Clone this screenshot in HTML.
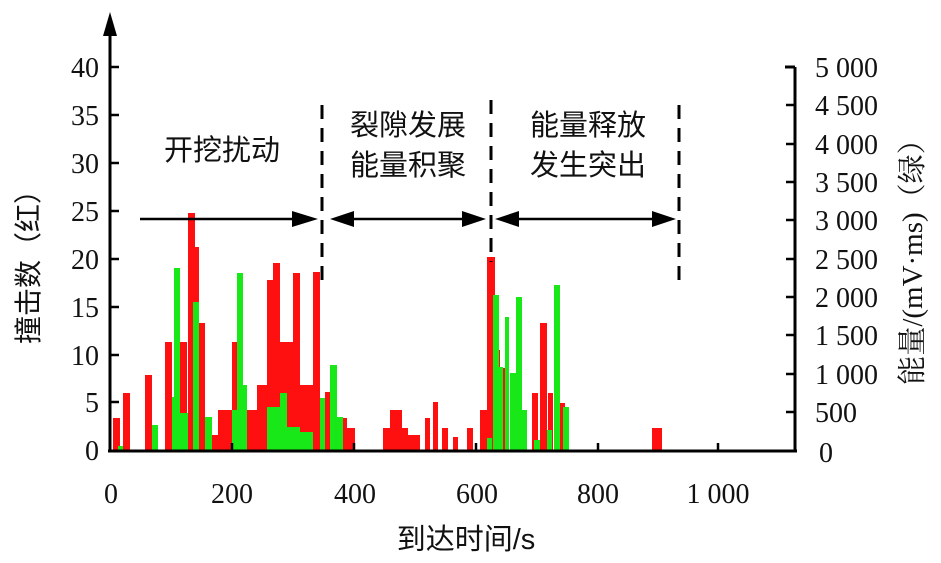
<!DOCTYPE html>
<html><head><meta charset="utf-8"><style>
body{margin:0;background:#fff;}
svg text{font-family:"Liberation Serif","Noto Serif CJK SC",serif;fill:#111;}
.cn{font-family:"Liberation Sans","Noto Sans CJK SC",sans-serif;}
</style></head><body>
<svg width="941" height="558" viewBox="0 0 941 558" xmlns="http://www.w3.org/2000/svg">
<g fill="#ff1010">
<rect x="113" y="418" width="7" height="32"/><rect x="123" y="393" width="7" height="57"/>
<rect x="145" y="375" width="7" height="75"/><rect x="165" y="342" width="7" height="108"/>
<rect x="180" y="342" width="7" height="108"/><rect x="188" y="213" width="7" height="237"/>
<rect x="195" y="247" width="4" height="203"/><rect x="199" y="323" width="6" height="127"/>
<rect x="212" y="435" width="6" height="15"/><rect x="218" y="410" width="14" height="40"/>
<rect x="232" y="342" width="6" height="108"/><rect x="243" y="410" width="14" height="40"/>
<rect x="257" y="385" width="10" height="65"/><rect x="267" y="280" width="6" height="170"/>
<rect x="273" y="263" width="7" height="187"/><rect x="280" y="342" width="13" height="108"/>
<rect x="293" y="273" width="7" height="177"/><rect x="300" y="385" width="13" height="65"/>
<rect x="313" y="272" width="7" height="178"/><rect x="325" y="392" width="7" height="58"/>
<rect x="340" y="418" width="7" height="32"/><rect x="347" y="428" width="8" height="22"/>
<rect x="383" y="428" width="7" height="22"/><rect x="390" y="410" width="12" height="40"/>
<rect x="402" y="428" width="6" height="22"/><rect x="408" y="435" width="12" height="15"/>
<rect x="425" y="418" width="5" height="32"/><rect x="433" y="402" width="5" height="48"/>
<rect x="442" y="428" width="6" height="22"/><rect x="453" y="437" width="5" height="13"/>
<rect x="467" y="428" width="6" height="22"/><rect x="480" y="410" width="7" height="40"/>
<rect x="487" y="257" width="8" height="193"/><rect x="495" y="350" width="5" height="100"/>
<rect x="500" y="368" width="5" height="82"/><rect x="510" y="402" width="5" height="48"/>
<rect x="532" y="393" width="6" height="57"/><rect x="540" y="323" width="7" height="127"/>
<rect x="548" y="393" width="5" height="57"/><rect x="560" y="403" width="5" height="47"/>
<rect x="652" y="428" width="10" height="22"/>
</g>
<g fill="#18e818">
<rect x="118" y="446" width="5" height="4"/><rect x="152" y="425" width="6" height="25"/>
<rect x="172" y="397" width="8" height="53"/><rect x="174" y="268" width="6" height="182"/>
<rect x="180" y="413" width="8" height="37"/><rect x="193" y="302" width="6" height="148"/>
<rect x="205" y="417" width="7" height="33"/><rect x="232" y="410" width="5" height="40"/>
<rect x="237" y="273" width="6" height="177"/><rect x="243" y="385" width="4" height="65"/>
<rect x="267" y="407" width="13" height="43"/><rect x="280" y="393" width="7" height="57"/>
<rect x="287" y="427" width="13" height="23"/><rect x="300" y="432" width="13" height="18"/>
<rect x="320" y="398" width="5" height="52"/><rect x="330" y="365" width="7" height="85"/>
<rect x="337" y="417" width="6" height="33"/><rect x="487" y="438" width="5" height="12"/>
<rect x="493" y="295" width="6" height="155"/><rect x="499" y="367" width="4" height="83"/>
<rect x="505" y="317" width="4" height="133"/><rect x="510" y="373" width="6" height="77"/>
<rect x="516" y="297" width="6" height="153"/><rect x="522" y="410" width="5" height="40"/>
<rect x="534" y="440" width="6" height="10"/><rect x="547" y="430" width="5" height="20"/>
<rect x="554" y="285" width="6" height="165"/><rect x="563" y="407" width="6" height="43"/>
</g>
<g stroke="#000" stroke-width="3" fill="none">
<line x1="110" y1="30" x2="110" y2="451"/>
<line x1="108" y1="451" x2="797" y2="451"/>
<line x1="795" y1="67" x2="795" y2="451"/>
<line x1="785" y1="67" x2="795" y2="67"/>
</g>
<polygon points="110,12 103,36 117,36" fill="#000"/>
<g stroke="#000" stroke-width="2.5">
<line x1="110" y1="67" x2="119" y2="67"/><line x1="110" y1="115" x2="119" y2="115"/>
<line x1="110" y1="163" x2="119" y2="163"/><line x1="110" y1="211" x2="119" y2="211"/>
<line x1="110" y1="259" x2="119" y2="259"/><line x1="110" y1="307" x2="119" y2="307"/>
<line x1="110" y1="355" x2="119" y2="355"/><line x1="110" y1="402" x2="119" y2="402"/>
<line x1="786" y1="105" x2="795" y2="105"/><line x1="786" y1="144" x2="795" y2="144"/>
<line x1="786" y1="182" x2="795" y2="182"/><line x1="786" y1="220" x2="795" y2="220"/>
<line x1="786" y1="259" x2="795" y2="259"/><line x1="786" y1="297" x2="795" y2="297"/>
<line x1="786" y1="335" x2="795" y2="335"/><line x1="786" y1="374" x2="795" y2="374"/>
<line x1="786" y1="412" x2="795" y2="412"/>
<line x1="232" y1="451" x2="232" y2="443"/><line x1="354" y1="451" x2="354" y2="443"/>
<line x1="476" y1="451" x2="476" y2="443"/><line x1="598" y1="451" x2="598" y2="443"/>
<line x1="718" y1="451" x2="718" y2="443"/>
</g>
<g stroke="#000" stroke-width="3" stroke-dasharray="14,9">
<line x1="322" y1="105" x2="322" y2="280"/>
<line x1="491" y1="100" x2="491" y2="262"/>
<line x1="679" y1="105" x2="679" y2="280"/>
</g>
<g stroke="#000" stroke-width="2.5">
<line x1="140" y1="219" x2="300" y2="219"/>
<line x1="345" y1="219" x2="470" y2="219"/>
<line x1="510" y1="219" x2="660" y2="219"/>
</g>
<g fill="#000">
<polygon points="318,219 292,211 292,227"/>
<polygon points="330,219 354,211 354,227"/><polygon points="486,219 462,211 462,227"/>
<polygon points="495,219 519,211 519,227"/><polygon points="676,219 652,211 652,227"/>
</g>
<g font-size="28" text-anchor="end">
<text x="99" y="77">40</text><text x="99" y="125">35</text><text x="99" y="173">30</text>
<text x="99" y="221">25</text><text x="99" y="269">20</text><text x="99" y="317">15</text>
<text x="99" y="365">10</text><text x="99" y="412">5</text><text x="99" y="460">0</text>
</g>
<g font-size="28">
<text x="815" y="77">5 000</text><text x="815" y="115">4 500</text><text x="815" y="154">4 000</text>
<text x="815" y="192">3 500</text><text x="815" y="230">3 000</text><text x="815" y="269">2 500</text>
<text x="815" y="307">2 000</text><text x="815" y="345">1 500</text><text x="815" y="384">1 000</text>
<text x="815" y="422">500</text><text x="819" y="462">0</text>
</g>
<g font-size="28" text-anchor="middle">
<text x="111" y="503">0</text><text x="232" y="503">200</text><text x="355" y="503">400</text>
<text x="477" y="503">600</text><text x="598" y="503">800</text><text x="718" y="503">1 000</text>
</g>
<g class="cn" font-size="29" text-anchor="middle">
<text class="cn" x="222" y="160">开挖扰动</text>
<text class="cn" x="408" y="135">裂隙发展</text><text class="cn" x="408" y="175">能量积聚</text>
<text class="cn" x="588" y="135">能量释放</text><text class="cn" x="588" y="175">发生突出</text>
</g>
<text class="cn" x="466" y="549" font-size="29" text-anchor="middle">到达时间/s</text>
<text class="cn" font-size="28" text-anchor="middle" transform="translate(38,260) rotate(-90)">撞击数（红）</text>
<text font-size="29" text-anchor="middle" transform="translate(922,255) rotate(-90)">能量/(mV·ms)（绿）</text>
</svg>
</body></html>
